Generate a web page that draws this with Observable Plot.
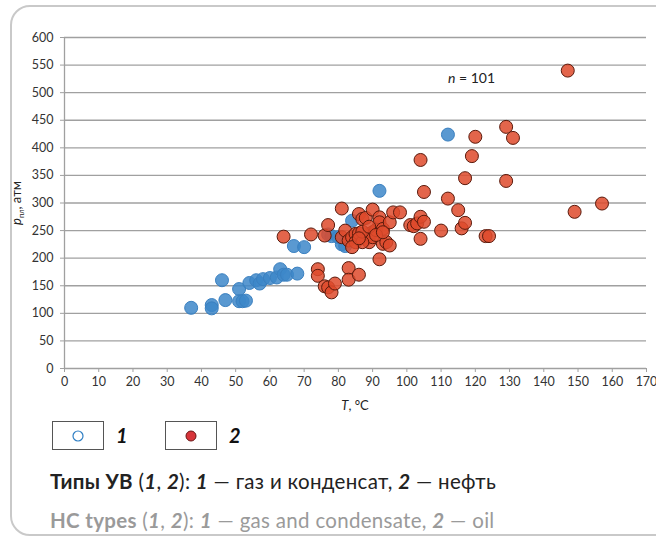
<!DOCTYPE html>
<html><head><meta charset="utf-8">
<script src="https://cdn.jsdelivr.net/npm/d3@7"></script>
<script src="https://cdn.jsdelivr.net/npm/@observablehq/plot@0.6"></script>
<style>
html,body{margin:0;padding:0;background:#fff;width:656px;height:545px;overflow:hidden;font-family:Lato,"Open Sans",sans-serif;}
#frame{position:absolute;left:10px;top:5px;width:680px;height:531px;border:2px solid #c9c9c9;border-radius:20px;box-sizing:border-box;}
#chart{position:absolute;left:0;top:0;}
.box{position:absolute;top:421px;width:52px;height:29px;border:1px solid #555;box-sizing:border-box;}
.lab{position:absolute;top:421px;font-weight:bold;font-style:italic;font-size:20px;line-height:29px;color:#111;}
.cap{position:absolute;left:50px;font-size:20.5px;white-space:nowrap;letter-spacing:0.3px;}
</style></head>
<body>
<div id="frame"></div>
<div id="chart"></div>
<div class="box" style="left:52px"><svg width="50" height="27"><circle cx="25" cy="14" r="5" fill="#fff" stroke="#2f7fc4" stroke-width="1.2"/></svg></div>
<div class="lab" style="left:116px">1</div>
<div class="box" style="left:165px"><svg width="50" height="27"><circle cx="25" cy="14" r="5" fill="#d7343a" stroke="#6a1515" stroke-width="1"/></svg></div>
<div class="lab" style="left:229px">2</div>
<div class="cap" style="top:469px;color:#222"><b>Типы УВ</b> (<b><i>1</i></b>, <b><i>2</i></b>): <b><i>1</i></b> — газ и конденсат, <b><i>2</i></b> — нефть</div>
<div class="cap" style="top:508px;color:#9a9a9a"><b>HC types</b> (<b><i>1</i></b>, <b><i>2</i></b>): <b><i>1</i></b> — gas and condensate, <b><i>2</i></b> — oil</div>
<script>
const xTicks = d3.range(0, 171, 10);
const yTicks = d3.range(0, 601, 50);
const gasT = [37,43,43,46,47,51,51,52,53,54,56,57,58,60,62,63,64,65,67,68,70,77,78,80,81,82,84,92,112];
const gasP = [110,115,109,160,124,144,122,122,123,155,160,154,162,164,165,180,170,170,222,172,220,243,240,238,225,222,268,322,424];
const oilT = [64,72,74,74,76,77,78,79,76,77,81,81,83,83,86,82,83,84,85,85,86,86,87,88,88,89,89,90,90,90,91,92,92,93,93,94,95,95,96,98,92,87,84,101,102,103,104,105,104,104,105,110,112,115,116,117,117,119,120,123,124,129,129,131,147,149,157,87,89,91,86,93];
const oilP = [239,243,180,168,149,147,138,154,241,260,238,290,182,161,170,250,232,238,244,229,245,280,271,273,235,244,229,288,247,238,251,274,265,253,226,229,265,223,283,283,198,229,220,260,258,263,275,266,235,378,320,250,308,287,254,264,345,385,420,240,240,438,340,418,540,284,299,248,257,242,236,247];
const annot = [{T:112, p:526, label:"n = 101"}];

const gas = gasT.map((t,i)=>({T:t, p:gasP[i]}));
const oil = oilT.map((t,i)=>({T:t, p:oilP[i]}));

const chart = Plot.plot({
  width:656, height:415,
  marginLeft:64, marginRight:10, marginTop:37, marginBottom:47,
  style:{fontFamily:"Lato, sans-serif", fontSize:"12.5px", color:"#333", background:"transparent"},
  x:{domain:[0,170]},
  y:{domain:[0,600]},
  marks:[
    Plot.gridY(yTicks,{stroke:"#a0a0a0", strokeOpacity:1, strokeWidth:1.3}),
    Plot.ruleX([0],{stroke:"#a0a0a0", strokeWidth:1.3}),
    Plot.axisY({ticks:yTicks, tickSize:4, tickPadding:7, label:null, stroke:"#a0a0a0"}),
    Plot.axisX({ticks:xTicks, tickSize:4, tickPadding:5, label:null, stroke:"#a0a0a0"}),
    Plot.dot(gas,{x:"T", y:"p", r:6.5, fill:"#3d87c9", fillOpacity:0.85, stroke:"#3a80c0", strokeWidth:1}),
    Plot.dot(oil,{x:"T", y:"p", r:6.5, fill:"#de4a2c", fillOpacity:0.85, stroke:"#5a1a0c", strokeWidth:1}),
    Plot.text(annot,{x:"T", y:"p", text:"label", textAnchor:"start", fontSize:14, fill:"#222", className:"nlab"})
  ]
});
document.getElementById("chart").appendChild(chart);
const svg = d3.select(chart);
svg.selectAll(".nlab text").each(function(){
  const t = d3.select(this); t.text("");
  t.append("tspan").attr("font-style","italic").text("n");
  t.append("tspan").text(" = 101");
});
// axis titles
svg.append("text").attr("transform","translate(21,203) rotate(-90)").attr("text-anchor","middle")
  .attr("font-family","Lato, sans-serif").attr("font-size",13).attr("fill","#222")
  .call(t=>{t.append("tspan").attr("font-style","italic").text("p");
            t.append("tspan").attr("font-size",7.5).attr("dy",3).text("пл");
            t.append("tspan").attr("dy",-3).text(", атм");});
svg.append("text").attr("x",355).attr("y",410).attr("text-anchor","middle")
  .attr("font-family","Lato, sans-serif").attr("font-size",13).attr("fill","#222")
  .call(t=>{t.append("tspan").attr("font-style","italic").text("T");
            t.append("tspan").text(", °C");});
</script>
</body></html>
